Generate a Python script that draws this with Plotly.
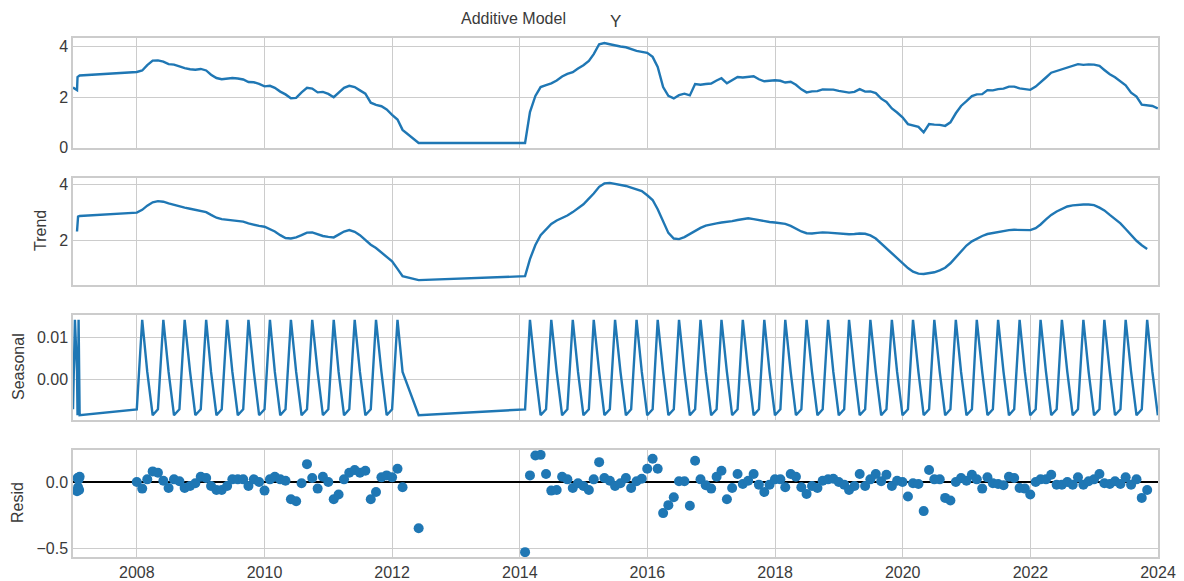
import pandas as pd
import plotly.graph_objects as go

# ---------------- data ----------------
dates_2007 = ["2007-01-01", "2007-01-12", "2007-01-24", "2007-01-27",
              "2007-01-30", "2007-02-02", "2007-02-05", "2007-02-08"]
dates_2008_2012 = [d.strftime("%Y-%m-%d") for d in pd.date_range("2008-01-01", "2012-03-01", freq="MS")] + ["2012-06-01"]
dates_2014_2023 = [d.strftime("%Y-%m-%d") for d in pd.date_range("2014-01-31", "2023-12-31", freq="ME")]

observed_2007 = [2.38, 2.33, 2.28, 2.80, 2.82, 2.83, 2.85, 2.86]
observed_2008_2012 = [
    3.00, 3.06, 3.27, 3.45, 3.46, 3.41, 3.31, 3.29, 3.22, 3.15, 3.11, 3.09,
    3.12, 3.06, 2.89, 2.76, 2.71, 2.73, 2.76, 2.74, 2.70, 2.60, 2.59, 2.53,
    2.43, 2.45, 2.37, 2.22, 2.11, 1.96, 1.97, 2.19, 2.37, 2.34, 2.19, 2.21,
    2.13, 2.00, 2.16, 2.37, 2.45, 2.40, 2.27, 2.14, 1.78, 1.69, 1.64, 1.51,
    1.30, 1.11, 0.70, 0.18]
observed_2014_2023 = [
    0.18, 1.41, 2.05, 2.40, 2.48, 2.55, 2.66, 2.82, 2.92, 2.99, 3.14, 3.27,
    3.44, 3.71, 4.10, 4.15, 4.10, 4.05, 4.01, 3.98, 3.90, 3.84, 3.80, 3.76,
    3.60, 3.20, 2.40, 2.05, 1.95, 2.08, 2.14, 2.07, 2.52, 2.49, 2.52, 2.54,
    2.66, 2.75, 2.55, 2.66, 2.80, 2.78, 2.81, 2.83, 2.71, 2.63, 2.65, 2.67,
    2.65, 2.58, 2.61, 2.49, 2.31, 2.19, 2.23, 2.24, 2.31, 2.32, 2.30, 2.25,
    2.22, 2.18, 2.21, 2.32, 2.22, 2.23, 2.16, 1.94, 1.81, 1.55, 1.39, 1.20,
    0.93, 0.88, 0.82, 0.60, 0.93, 0.91, 0.90, 0.86, 1.00, 1.36, 1.65, 1.84,
    2.04, 2.11, 2.12, 2.28, 2.27, 2.32, 2.34, 2.42, 2.42, 2.35, 2.32, 2.29,
    2.42, 2.61, 2.78, 2.97, 3.04, 3.13, 3.20, 3.24, 3.31, 3.28, 3.30, 3.29,
    3.24, 3.08, 2.91, 2.79, 2.61, 2.47, 2.18, 2.02, 1.70, 1.66, 1.65, 1.55]

trend_2007 = [None, None, 2.33, 2.85, 2.86, 2.87, 2.87, 2.88]
trend_2008_2012 = [
    3.00, 3.10, 3.25, 3.37, 3.41, 3.39, 3.33, 3.27, 3.22, 3.18, 3.14, 3.10,
    3.08, 3.02, 2.92, 2.82, 2.77, 2.75, 2.74, 2.72, 2.68, 2.62, 2.57, 2.53,
    2.50, 2.42, 2.33, 2.20, 2.10, 2.08, 2.12, 2.20, 2.29, 2.30, 2.24, 2.17,
    2.14, 2.12, 2.22, 2.33, 2.38, 2.32, 2.20, 2.02, 1.86, 1.74, 1.58, 1.45,
    1.27, 1.00, 0.74, 0.60]
trend_2014_2023 = [
    0.74, 1.35, 1.85, 2.20, 2.42, 2.60, 2.72, 2.80, 2.90, 3.02, 3.15, 3.30,
    3.50, 3.68, 3.92, 4.04, 4.06, 4.03, 3.99, 3.95, 3.89, 3.83, 3.77, 3.62,
    3.45, 3.12, 2.70, 2.28, 2.08, 2.06, 2.13, 2.24, 2.36, 2.46, 2.54, 2.59,
    2.62, 2.65, 2.67, 2.70, 2.74, 2.78, 2.80, 2.77, 2.73, 2.69, 2.67, 2.65,
    2.63, 2.60, 2.53, 2.42, 2.33, 2.27, 2.26, 2.28, 2.30, 2.29, 2.27, 2.25,
    2.24, 2.23, 2.24, 2.26, 2.25, 2.19, 2.08, 1.90, 1.72, 1.55, 1.36, 1.18,
    1.03, 0.90, 0.83, 0.82, 0.84, 0.88, 0.95, 1.04, 1.20, 1.40, 1.62, 1.83,
    1.98, 2.08, 2.17, 2.24, 2.28, 2.32, 2.36, 2.38, 2.39, 2.38, 2.37, 2.38,
    2.45, 2.58, 2.76, 2.92, 3.04, 3.14, 3.22, 3.26, 3.28, 3.29, 3.29, 3.27,
    3.18, 3.08, 2.92, 2.78, 2.62, 2.42, 2.20, 2.00, 1.84, 1.71, None, None]

# one seasonal cycle (period 4); the seasonal component repeats it
seasonal_cycle = [-0.0072, 0.0141, 0.0017, -0.0086]

resid_2007 = [None, None, -0.07, 0.03, -0.04, 0.02, -0.06, 0.04]
resid_2008_2012 = [
    0.00, -0.05, 0.02, 0.08, 0.07, 0.01, -0.045, 0.02, 0.005, -0.045, -0.03, -0.01,
    0.04, 0.03, -0.03, -0.06, -0.06, -0.03, 0.02, 0.02, 0.02, -0.03, 0.02, 0.00,
    -0.065, 0.02, 0.04, 0.02, 0.01, -0.13, -0.145, -0.01, 0.135, 0.03, -0.05, 0.04,
    0.00, -0.13, -0.095, 0.02, 0.07, 0.09, 0.07, 0.085, -0.13, -0.075, 0.035, 0.05,
    0.035, 0.10, -0.04, -0.35]
resid_2014_2023 = [
    -0.53, 0.05, 0.20, 0.205, 0.06, -0.065, -0.06, 0.04, 0.02, -0.045, -0.01, -0.03,
    -0.06, 0.02, 0.15, 0.03, 0.01, -0.03, -0.01, 0.03, -0.045, 0.005, 0.025, 0.10,
    0.175, 0.10, -0.235, -0.175, -0.115, 0.005, 0.005, -0.18, 0.16, 0.02, -0.025, -0.05,
    0.04, 0.085, -0.13, -0.045, 0.06, -0.015, 0.01, 0.06, -0.02, -0.075, -0.02, 0.02,
    0.02, -0.04, 0.06, 0.04, -0.04, -0.09, -0.03, -0.045, 0.01, 0.02, 0.025, 0.00,
    -0.02, -0.06, -0.03, 0.06, -0.03, 0.02, 0.06, 0.005, 0.055, -0.03, 0.01, 0.00,
    -0.11, -0.01, -0.015, -0.22, 0.09, 0.02, 0.02, -0.12, -0.14, 0.00, 0.03, 0.01,
    0.055, 0.02, -0.05, 0.035, -0.01, -0.015, -0.025, 0.04, 0.03, -0.045, -0.05, -0.095,
    0.00, 0.02, 0.02, 0.055, -0.02, -0.02, 0.00, -0.02, 0.035, -0.02, 0.005, 0.02,
    0.06, -0.01, -0.015, 0.005, -0.015, 0.035, -0.02, 0.02, -0.12, -0.06, None, None]

tick_years = ["2008", "2010", "2012", "2014", "2016", "2018", "2020", "2022", "2024"]

# ---------------- assemble ----------------
dates = dates_2007 + dates_2008_2012 + dates_2014_2023
observed = observed_2007 + observed_2008_2012 + observed_2014_2023
trend = trend_2007 + trend_2008_2012 + trend_2014_2023
resid = resid_2007 + resid_2008_2012 + resid_2014_2023
seasonal = [seasonal_cycle[i % len(seasonal_cycle)] for i in range(len(dates))]


def padded(values, frac=0.05):
    v = [x for x in values if x is not None]
    lo, hi = min(v), max(v)
    pad = (hi - lo) * frac
    return [lo - pad, hi + pad]


BLUE = "#1f77b4"
GRID = "#cccccc"
TEXT = "#3a3a3a"
FONT = "Liberation Sans, Arial, sans-serif"

fig = go.Figure()
fig.add_trace(go.Scatter(x=dates, y=observed, mode="lines", line=dict(color=BLUE, width=2.4),
                         xaxis="x", yaxis="y", showlegend=False))
fig.add_trace(go.Scatter(x=dates, y=trend, mode="lines", line=dict(color=BLUE, width=2.4),
                         xaxis="x2", yaxis="y2", showlegend=False))
fig.add_trace(go.Scatter(x=dates, y=seasonal, mode="lines", line=dict(color=BLUE, width=2.4),
                         xaxis="x3", yaxis="y3", showlegend=False))
fig.add_trace(go.Scatter(x=dates, y=resid, mode="markers", marker=dict(color=BLUE, size=10),
                         xaxis="x4", yaxis="y4", showlegend=False))

W, H = 1184, 581
L, R, T, B = 73, 1158, 38, 557
pw, ph = R - L, B - T


def ydom(top_px, bot_px):
    return [(B - bot_px) / ph, (B - top_px) / ph]


# x limits: first observation to the end of the last month
xrange_ = [dates[0], (pd.Timestamp(dates[-1]) + pd.Timedelta(days=1)).strftime("%Y-%m-%d")]
tickvals = [f"{y}-01-01" for y in tick_years]

TICKFONT = dict(size=16, color=TEXT, family=FONT)
common_x = dict(range=xrange_, type="date", tickvals=tickvals, ticktext=tick_years,
                showgrid=True, gridcolor=GRID, gridwidth=1, showline=True, mirror=True,
                linecolor=GRID, linewidth=1.5, ticks="", zeroline=False, tickfont=TICKFONT,
                automargin=False)
common_y = dict(showgrid=True, gridcolor=GRID, gridwidth=1, showline=True, mirror=True,
                linecolor=GRID, linewidth=1.5, ticks="", zeroline=False, tickfont=TICKFONT,
                automargin=False)

fig.update_layout(
    width=W, height=H,
    margin=dict(l=L, r=W - R, t=T, b=H - B, pad=0, autoexpand=False),
    paper_bgcolor="white", plot_bgcolor="white",
    font=dict(family=FONT, color=TEXT),
    xaxis=dict(common_x, domain=[0, 1], anchor="y", showticklabels=False),
    xaxis2=dict(common_x, domain=[0, 1], anchor="y2", matches="x", showticklabels=False),
    xaxis3=dict(common_x, domain=[0, 1], anchor="y3", matches="x", showticklabels=False),
    xaxis4=dict(common_x, domain=[0, 1], anchor="y4", matches="x", showticklabels=True),
    yaxis=dict(common_y, domain=ydom(38, 148), anchor="x", range=padded(observed),
               tickvals=[0, 2, 4], tickformat="d"),
    yaxis2=dict(common_y, domain=ydom(178, 285), anchor="x2", range=padded(trend),
                tickvals=[2, 4], tickformat="d"),
    yaxis3=dict(common_y, domain=ydom(315, 420), anchor="x3", range=padded(seasonal),
                tickvals=[0, 0.01], tickformat=".2f"),
    yaxis4=dict(common_y, domain=ydom(450, 557), anchor="x4", range=padded(resid),
                tickvals=[-0.5, 0], tickformat=".1f",
                zeroline=True, zerolinecolor="#000000", zerolinewidth=1.5),
)


def px_to_paper_x(px):
    return (px - L) / pw


def px_to_paper_y(py):
    return (B - py) / ph


annotations = [
    dict(text="Additive Model", x=px_to_paper_x(513), y=px_to_paper_y(18), font=dict(size=16)),
    dict(text="Y", x=px_to_paper_x(615), y=px_to_paper_y(22), font=dict(size=17)),
    dict(text="Trend", x=px_to_paper_x(40), y=px_to_paper_y(231), textangle=-90, font=dict(size=16)),
    dict(text="Seasonal", x=px_to_paper_x(18), y=px_to_paper_y(367), textangle=-90, font=dict(size=16)),
    dict(text="Resid", x=px_to_paper_x(18), y=px_to_paper_y(503), textangle=-90, font=dict(size=16)),
]
for a in annotations:
    a.update(xref="paper", yref="paper", showarrow=False, xanchor="center", yanchor="middle")
    a["font"].update(family=FONT, color=TEXT)
fig.update_layout(annotations=annotations)

# remove the browser's default 8px page margin so the figure sits at (0, 0)
fig.write_html("out.html", config={"displayModeBar": False},
               post_script="document.body.style.margin='0';")
